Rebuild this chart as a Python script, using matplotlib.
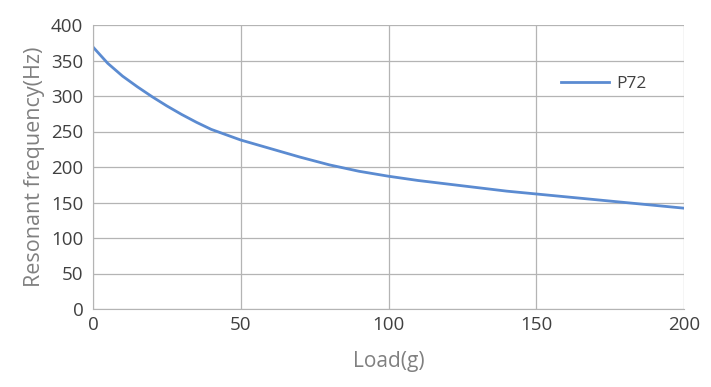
import matplotlib
matplotlib.use("Agg")
import matplotlib.pyplot as plt

load_g = [0, 5, 10, 15, 20, 25, 30, 35, 40, 50, 60, 70, 80, 90, 100, 110, 120, 130, 140, 150, 160, 170, 180, 190, 200]
freq_hz = [369, 346, 328, 313, 299, 286, 274, 263, 253, 238, 226, 214, 203, 194, 187, 181, 176, 171, 166, 162, 158, 154, 150, 146, 142]
series_name = "P72"
x_ticks = [0, 50, 100, 150, 200]
y_ticks = [0, 50, 100, 150, 200, 250, 300, 350, 400]

plt.rcParams['font.family'] = ['Open Sans', 'DejaVu Sans']

fig = plt.figure(figsize=(7.11, 3.87), dpi=100)
ax = fig.add_axes([93/711, 1-309/387, (684-93)/711, (309-25)/387])

ax.plot(load_g, freq_hz, color='#5b8bd1', lw=2.0, label=series_name,
        solid_joinstyle='round')
ax.set_xlim(0, 200)
ax.set_ylim(0, 400)
ax.set_xticks(x_ticks)
ax.set_yticks(y_ticks)
ax.grid(True, color='#b4b4b4', lw=0.9)
ax.set_axisbelow(True)
for s in ax.spines.values():
    s.set_visible(False)
ax.spines['left'].set_visible(True)
ax.spines['bottom'].set_visible(True)
ax.spines['left'].set_color('#b4b4b4')
ax.spines['bottom'].set_color('#b4b4b4')
ax.tick_params(length=0, labelsize=13.5, colors='#404040')
ax.tick_params(axis='y', pad=7)
ax.tick_params(axis='x', pad=5)
ax.set_xlabel('Load(g)', fontsize=15, color='#808080', labelpad=12)
ax.set_ylabel('Resonant frequency(Hz)', fontsize=15.5, color='#808080', labelpad=4)

leg = ax.legend(loc='upper left', bbox_to_anchor=(0.765, 0.875), frameon=False,
                fontsize=12.5, handlelength=2.8, handletextpad=0.4)
for t in leg.get_texts():
    t.set_color('#404040')

fig.savefig('out.png', dpi=100)
